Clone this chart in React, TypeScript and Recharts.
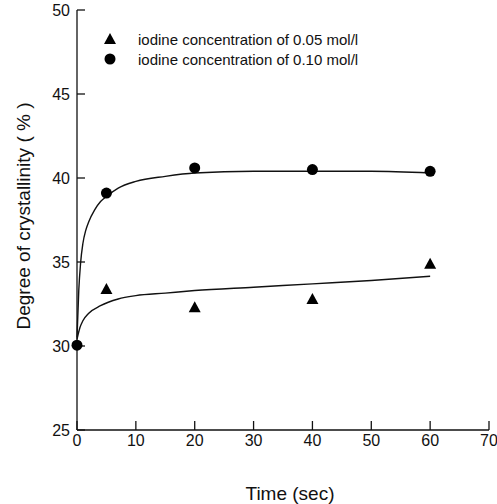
import { ComposedChart, Scatter, Line, XAxis, YAxis, Legend } from 'recharts';

const xTicks = [0, 10, 20, 30, 40, 50, 60, 70];
const yTicks = [25, 30, 35, 40, 45, 50];

const SERIES_LOW = 'iodine concentration of 0.05 mol/l';
const SERIES_HIGH = 'iodine concentration of 0.10 mol/l';

// measured points
const lowPoints = [
  { t: 5, v: 33.4 },
  { t: 20, v: 32.3 },
  { t: 40, v: 32.8 },
  { t: 60, v: 34.9 },
];
const highPoints = [
  { t: 0, v: 30.05 },
  { t: 5, v: 39.1 },
  { t: 20, v: 40.6 },
  { t: 40, v: 40.5 },
  { t: 60, v: 40.4 },
];

// fitted curves
const lowFit = [
  { t: 0, v: 30.4 },
  { t: 0.5, v: 31.1 },
  { t: 1, v: 31.5 },
  { t: 2, v: 31.95 },
  { t: 4, v: 32.4 },
  { t: 7, v: 32.8 },
  { t: 10, v: 33.0 },
  { t: 15, v: 33.15 },
  { t: 20, v: 33.3 },
  { t: 30, v: 33.5 },
  { t: 40, v: 33.7 },
  { t: 50, v: 33.9 },
  { t: 60, v: 34.15 },
];
const highFit = [
  { t: 0, v: 30.5 },
  { t: 0.3, v: 33.3 },
  { t: 0.6, v: 34.9 },
  { t: 1, v: 36.1 },
  { t: 1.5, v: 36.9 },
  { t: 2, v: 37.4 },
  { t: 3, v: 38.1 },
  { t: 4, v: 38.6 },
  { t: 5, v: 38.9 },
  { t: 7, v: 39.4 },
  { t: 10, v: 39.8 },
  { t: 15, v: 40.1 },
  { t: 20, v: 40.3 },
  { t: 30, v: 40.4 },
  { t: 40, v: 40.4 },
  { t: 50, v: 40.4 },
  { t: 60, v: 40.3 },
];

const FONT = '"Liberation Sans", Arial, sans-serif';

const Triangle = (props: any) => {
  const { cx, cy } = props;
  return (
    <polygon
      points={`${cx},${cy - 6} ${cx - 6},${cy + 5} ${cx + 6},${cy + 5}`}
      fill="#000"
    />
  );
};

const Dot = (props: any) => {
  const { cx, cy } = props;
  return <circle cx={cx} cy={cy} r={5.5} fill="#000" />;
};

const renderLegend = (props: any) => {
  const items = (props.payload || []).filter((p: any) => p.type !== 'none');
  return (
    <div style={{ fontFamily: FONT, fontSize: 15, color: '#111' }}>
      {items.map((item: any) => (
        <div
          key={item.value}
          style={{ display: 'flex', alignItems: 'center', height: 20 }}
        >
          <svg width={14} height={14} style={{ marginRight: 21 }}>
            {item.type === 'triangle' ? (
              <polygon points="7,1 1,12 13,12" fill="#000" />
            ) : (
              <circle cx={7} cy={7} r={5.5} fill="#000" />
            )}
          </svg>
          <span>{item.value}</span>
        </div>
      ))}
    </div>
  );
};

const YTitle = (props: any) => {
  const { viewBox } = props;
  const x = viewBox.x + 23;
  const y = viewBox.y + viewBox.height / 2 - 4;
  return (
    <text
      x={x}
      y={y}
      transform={`rotate(-90, ${x}, ${y})`}
      textAnchor="middle"
      dominantBaseline="central"
      fontFamily={FONT}
      fontSize={19}
      fill="#111"
    >
      Degree of crystallinity ( % )
    </text>
  );
};

const XTitle = (props: any) => {
  const { viewBox } = props;
  return (
    <text
      x={viewBox.x + viewBox.width / 2 + 7}
      y={viewBox.y + 63}
      textAnchor="middle"
      dominantBaseline="central"
      fontFamily={FONT}
      fontSize={19}
      fill="#111"
    >
      Time (sec)
    </text>
  );
};

const tickStyle = { fontFamily: FONT, fontSize: 16, fill: '#111' };
const axisLine = { stroke: '#111', strokeWidth: 1.3 };

export default function App() {
  return (
    <div style={{ position: 'absolute', left: 0, top: 0, background: '#fff' }}>
      <ComposedChart
        width={497}
        height={504}
        margin={{ top: 10, right: 8, bottom: 0, left: 0 }}
      >
        <XAxis
          xAxisId={0}
          dataKey="t"
          type="number"
          domain={[0, 70]}
          ticks={xTicks}
          interval={0}
          height={74}
          tickSize={-9}
          tickMargin={14}
          tick={tickStyle}
          axisLine={axisLine}
          tickLine={axisLine}
          label={<XTitle />}
        />
        <XAxis
          xAxisId="top"
          orientation="top"
          type="number"
          domain={[0, 70]}
          height={0}
          tick={false}
          tickLine={false}
          axisLine={axisLine}
        />
        <YAxis
          yAxisId={0}
          dataKey="v"
          type="number"
          domain={[25, 50]}
          ticks={yTicks}
          interval={0}
          width={77}
          tickSize={-8}
          tickMargin={15}
          tick={tickStyle}
          axisLine={axisLine}
          tickLine={axisLine}
          label={<YTitle />}
        />
        <YAxis
          yAxisId="right"
          orientation="right"
          type="number"
          domain={[25, 50]}
          width={0}
          tick={false}
          tickLine={false}
          axisLine={axisLine}
        />
        <Legend
          layout="vertical"
          align="center"
          verticalAlign="middle"
          content={renderLegend}
          wrapperStyle={{ position: 'absolute', left: 103, top: 29, width: 'auto' }}
        />
        <Line
          data={lowFit}
          dataKey="v"
          type="monotone"
          stroke="#111"
          strokeWidth={1.4}
          dot={false}
          activeDot={false}
          legendType="none"
          isAnimationActive={false}
        />
        <Line
          data={highFit}
          dataKey="v"
          type="monotone"
          stroke="#111"
          strokeWidth={1.4}
          dot={false}
          activeDot={false}
          legendType="none"
          isAnimationActive={false}
        />
        <Scatter
          name={SERIES_LOW}
          data={lowPoints}
          dataKey="v"
          shape={Triangle}
          legendType="triangle"
          fill="#000"
          isAnimationActive={false}
        />
        <Scatter
          name={SERIES_HIGH}
          data={highPoints}
          dataKey="v"
          shape={Dot}
          legendType="circle"
          fill="#000"
          isAnimationActive={false}
        />
      </ComposedChart>
    </div>
  );
}
